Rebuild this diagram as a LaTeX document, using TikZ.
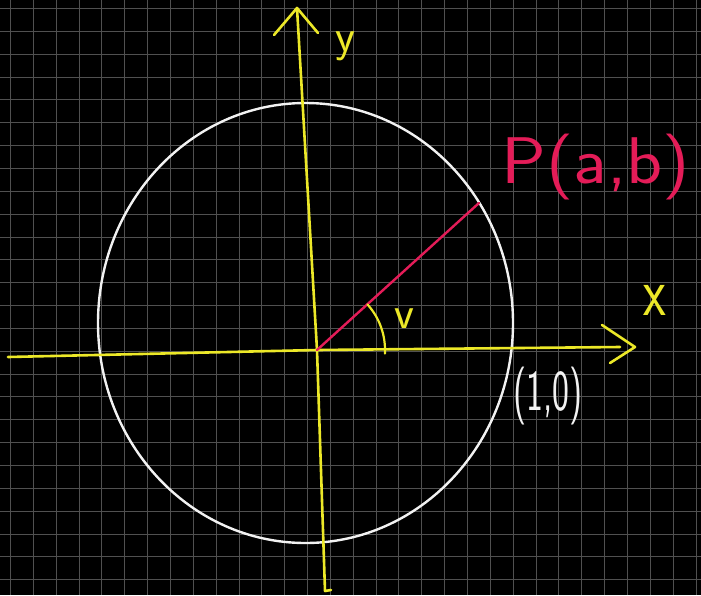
\documentclass[tikz,border=0pt]{standalone}
\usepackage{graphicx}
\definecolor{hy}{RGB}{236,232,40}
\definecolor{hr}{RGB}{228,28,88}
\definecolor{hw}{RGB}{242,242,242}
\definecolor{gridc}{RGB}{80,80,80}
\begin{document}
\begin{tikzpicture}[x=1pt,y=-1pt,
  gridline/.style={gridc, line width=1.2pt},
  axis/.style={hy, line width=2.6pt, line cap=round, line join=round},
  arrowstroke/.style={hy, line width=2.6pt, line cap=round, line join=round},
  circ/.style={hw, line width=2.4pt},
  radius line/.style={hr, line width=2.4pt, line cap=round},
  lbl/.style={inner sep=0pt, anchor=base, font=\sffamily}]
\fill[black] (0,0) rectangle (701,595);
\useasboundingbox (0,0) rectangle (701,595);
\foreach \i in {0,...,30} {\pgfmathsetmacro{\gx}{round(10+22.85*\i)+0.5}\draw[gridline] (\gx,0) -- (\gx,595);}
\foreach \j in {0,...,25} {\pgfmathsetmacro{\gy}{round(8+22.85*\j)+0.5}\draw[gridline] (0,\gy) -- (701,\gy);}
% coordinates
\coordinate (O) at (317,350);
\coordinate (xL) at (8,357);
\coordinate (xR) at (620,347);
\coordinate (xA1) at (602,325);
\coordinate (xTip) at (635,347);
\coordinate (xA2) at (610,363);
\coordinate (yT) at (297,8);
\coordinate (yB) at (325,591);
\coordinate (yHook) at (331,590);
\coordinate (yA1) at (274,35);
\coordinate (yA2) at (318,33);
\coordinate (C) at (305.5,323);
\coordinate (P) at (479,203);
% circle
\draw[circ] (C) ellipse [x radius=207.5pt, y radius=220pt];
% axes
\draw[axis] (xL) -- (O) -- (xR);
\draw[arrowstroke] (xA1) -- (xTip) -- (xA2);
\draw[axis] (yT) -- (O) -- (yB) -- (yHook);
\draw[arrowstroke] (yA1) -- (yT) -- (yA2);
% radius
\draw[radius line] (O) -- (P);
% angle
\draw[axis, line width=2.2pt] ([shift={(-42:68)}]O) arc[start angle=-42, end angle=3, radius=68];
% labels
\node[lbl, hy] (ylab) at (345,51) {\fontsize{46}{46}\selectfont y};
\node[lbl, hy] (xlab) at (655,315) {\fontsize{70}{70}\selectfont\scalebox{0.75}[1]{x}};
\node[lbl, hy] (vlab) at (404,328) {\fontsize{46}{46}\selectfont v};
\node[lbl, hw] (onelab) at (548,410) {\fontsize{58}{58}\selectfont\scalebox{0.62}[1]{(1,0)}};
\node[lbl, hr] (plab) at (596,183) {\fontsize{66}{66}\selectfont\scalebox{1.13}[1]{P(a,b)}};
\end{tikzpicture}
\end{document}
